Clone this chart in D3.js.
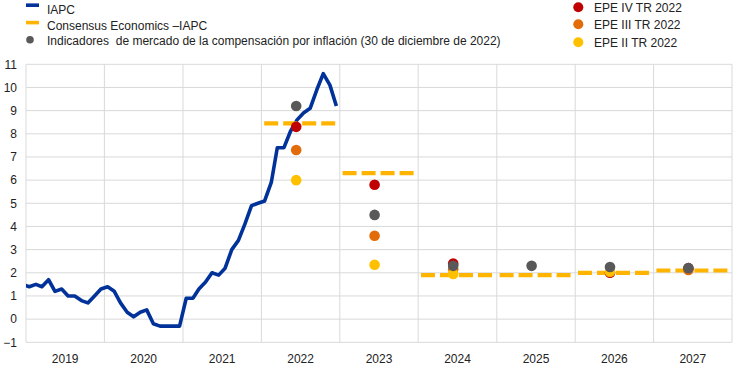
<!DOCTYPE html>
<html><head><meta charset="utf-8">
<script src="https://cdn.jsdelivr.net/npm/d3@7"></script>
<style>
body{margin:0;background:#fff;}
text{font-family:"Liberation Sans",Arial,sans-serif;fill:#222;}
</style></head>
<body><svg id="c" width="739" height="369"></svg>
<script>
// IAPC monthly, Dec 2018 .. Dec 2022
const iapcStart = [2018, 11];
const iapc = [1.5,
 1.4,1.5,1.4,1.7,1.2,1.3,1.0,1.0,0.8,0.7,1.0,1.3,
 1.4,1.2,0.7,0.3,0.1,0.3,0.4,-0.2,-0.3,-0.3,-0.3,-0.3,
 0.9,0.9,1.3,1.6,2.0,1.9,2.2,3.0,3.4,4.1,4.9,5.0,
 5.1,5.9,7.4,7.4,8.1,8.6,8.9,9.1,9.9,10.6,10.1,9.2];
const years = [2019,2020,2021,2022,2023,2024,2025,2026,2027];
const consensusYears = [2022,2023,2024,2025,2026,2027];
const consensus = [8.45,6.3,1.9,1.9,2.0,2.1];
const marketYears = [2022,2023,2024,2025,2026,2027];
const market = [9.2,4.5,2.3,2.3,2.25,2.2];
const spfQ4Years = [2022,2023,2024,2026,2027];
const spfQ4 = [8.3,5.8,2.4,2.0,2.2];
const spfQ3Years = [2022,2023,2024,2027];
const spfQ3 = [7.3,3.6,2.15,2.12];
const spfQ2Years = [2022,2023,2024,2026];
const spfQ2 = [6.0,2.35,1.95,2.05];
const yTicks = [-1,0,1,2,3,4,5,6,7,8,9,10,11];

const svg = d3.select("#c");
const x = d3.scaleTime().domain([new Date(2019,0,1), new Date(2028,0,1)]).range([26,732]);
const y = d3.scaleLinear().domain([-1,11]).range([342.3,64.3]);
const grid = "#d9d9d9";

// horizontal grid
svg.append("g").selectAll("line").data(yTicks).join("line")
  .attr("x1",26).attr("x2",732).attr("y1",d=>y(d)).attr("y2",d=>y(d))
  .attr("stroke",grid).attr("stroke-width",1);
// vertical grid at year boundaries
svg.append("g").selectAll("line").data(d3.range(2019,2029)).join("line")
  .attr("x1",d=>x(new Date(d,0,1))).attr("x2",d=>x(new Date(d,0,1)))
  .attr("y1",y(11)).attr("y2",y(-1))
  .attr("stroke",grid).attr("stroke-width",1);

// y axis labels
const yAxis = d3.axisLeft(y).tickValues(yTicks).tickSize(0).tickPadding(0).tickFormat(d3.format("d"));
const gy = svg.append("g").attr("transform","translate(17,0)").call(yAxis);
gy.select(".domain").remove();
gy.selectAll("text").attr("font-size",12).attr("fill","#222")
  .attr("font-family","Liberation Sans, Arial, sans-serif");

// x axis labels (centered on years)
const gx = svg.append("g");
gx.selectAll("text").data(years).join("text")
  .attr("x",d=>(x(new Date(d,0,1))+x(new Date(d+1,0,1)))/2)
  .attr("y",363).attr("text-anchor","middle").attr("font-size",12)
  .text(d=>d);

// clip
svg.append("clipPath").attr("id","clip").append("rect")
  .attr("x",26).attr("y",0).attr("width",706).attr("height",369);

// IAPC line
const pts = iapc.map((v,i)=>({d:new Date(iapcStart[0], iapcStart[1]+i, 16), v}));
svg.append("path").datum(pts).attr("clip-path","url(#clip)")
  .attr("d", d3.line().x(p=>x(p.d)).y(p=>y(p.v)))
  .attr("fill","none").attr("stroke","#003299").attr("stroke-width",3.6)
  .attr("stroke-linejoin","round");

// Consensus dashes
svg.append("g").selectAll("line").data(consensusYears.map((yr,i)=>({yr,v:consensus[i]}))).join("line")
  .attr("x1",d=>x(new Date(d.yr,0,14))).attr("x2",d=>x(new Date(d.yr,11,18)))
  .attr("y1",d=>y(d.v)).attr("y2",d=>y(d.v))
  .attr("stroke","#ffb400").attr("stroke-width",4.2).attr("stroke-dasharray","14,5");

function dots(ys, vs, color){
  svg.append("g").selectAll("circle").data(ys.map((yr,i)=>({yr,v:vs[i]}))).join("circle")
    .attr("cx",d=>x(new Date(d.yr,5,12))).attr("cy",d=>y(d.v)).attr("r",5.3)
    .attr("fill",color);
}
dots(spfQ4Years, spfQ4, "#c00000");
dots(spfQ3Years, spfQ3, "#e36c0a");
dots(spfQ2Years, spfQ2, "#ffc000");
dots(marketYears, market, "#595959");

// Legend left
const lg = svg.append("g");
lg.append("rect").attr("x",26).attr("y",3.4).attr("width",13).attr("height",3.6).attr("fill","#003299");
lg.append("text").attr("x",47).attr("y",14).attr("font-size",12).text("IAPC");
lg.append("rect").attr("x",26).attr("y",20.8).attr("width",13).attr("height",3.6).attr("fill","#ffb400");
lg.append("text").attr("x",47).attr("y",30).attr("font-size",12).text("Consensus Economics \u2013IAPC");
lg.append("circle").attr("cx",30).attr("cy",39.7).attr("r",3.8).attr("fill","#595959");
lg.append("text").attr("x",47).attr("y",45).attr("font-size",12).text("Indicadores  de mercado de la compensación por inflación (30 de diciembre de 2022)").attr("xml:space","preserve").style("white-space","pre");

// Legend right
const rl = [["EPE IV TR 2022","#c00000",7.3],["EPE III TR 2022","#e36c0a",24.3],["EPE II TR 2022","#ffc000",42.3]];
const rg = svg.append("g");
rl.forEach(([t,c,cy])=>{
  rg.append("circle").attr("cx",578.3).attr("cy",cy).attr("r",5).attr("fill",c);
  rg.append("text").attr("x",594).attr("y",cy+5).attr("font-size",12).text(t);
});
</script></body></html>
